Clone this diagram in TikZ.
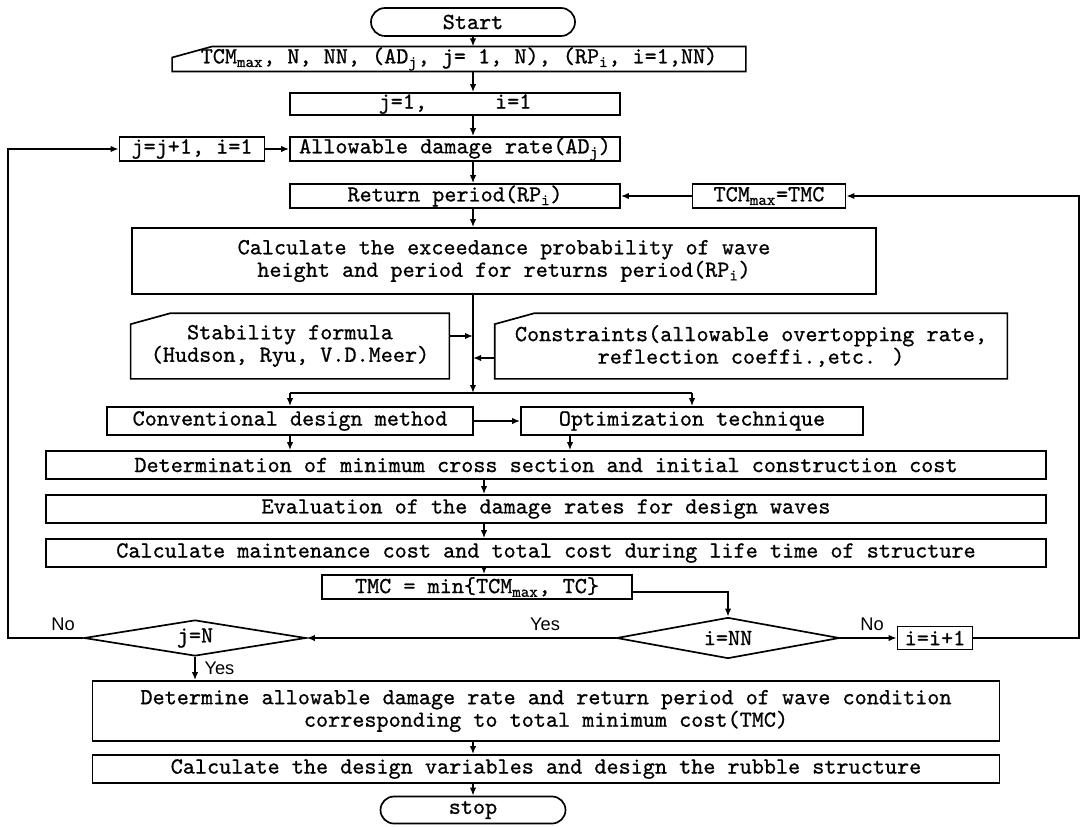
\documentclass[tikz,border=0pt]{standalone}
\usepackage{fontspec}
\newfontfamily\flowfont{lmmono10-regular.otf}[FakeBold=0.8]
\newfontfamily\labelfont{Liberation Sans}
\usetikzlibrary{shapes.geometric,shapes.misc,arrows.meta}

\begin{document}
\begin{tikzpicture}[x=0.25mm, y=-0.25mm, line width=1.2pt,
    every node/.style={font=\flowfont\fontsize{16.4}{16}\selectfont},
    box/.style={draw, rectangle, inner sep=0pt, align=center},
    manual/.style={rectangle, inner sep=0pt, align=center},
    terminal/.style={draw, rounded rectangle, inner sep=0pt},
    decision/.style={draw, diamond, inner sep=0pt, aspect=6},
    flow/.style={-{Latex[length=2mm,width=1.6mm]}},
    yesno/.style={font=\labelfont\fontsize{13}{13}\selectfont}]

\useasboundingbox (0,0) rectangle (1084,826);

% Reference lines
\coordinate (col) at (473,0);
\coordinate (col2) at (484,0);
\coordinate (optout) at (570,0);
\coordinate (lloop) at (8,0);
\coordinate (rloop) at (1079,0);
\coordinate (joint) at (473,393);
\coordinate (sin) at (473,336);
\coordinate (cin) at (473,358);

% Top part
\node[terminal, minimum width=51mm, minimum height=7mm] (start) at (473,22) {Start};
\node[manual, minimum width=143mm, minimum height=5.5mm] (input) at (459,59)
    {TCM\textsubscript{max}, N, NN, (AD\textsubscript{j}, j= 1, N), (RP\textsubscript{i}, i=1,NN)};
\node[box, minimum width=82.5mm, minimum height=5.5mm] (init) at (455,104) {j=1,\hspace{17mm}i=1};
\node[box, minimum width=36.25mm, minimum height=6mm] (jinc) at (192,149) {j=j+1, i=1};
\node[box, minimum width=82.5mm, minimum height=6mm] (allow) at (455,149) {Allowable damage rate(AD\textsubscript{j})};
\node[box, minimum width=82.5mm, minimum height=6mm] (ret) at (455,196) {Return period(RP\textsubscript{i})};
\node[box, minimum width=38.25mm, minimum height=6mm] (tcmset) at (769,196) {TCM\textsubscript{max}=TMC};
\node[box, minimum width=186mm, minimum height=16.5mm] (calc) at (504,261)
    {Calculate the exceedance probability of wave\\height and period for returns period(RP\textsubscript{i})};

% Formulae and constraints
\node[manual, minimum width=79.25mm, minimum height=16mm] (stab) at (290,346)
    {Stability formula\\(Hudson, Ryu, V.D.Meer)};
\node[manual, minimum width=127.75mm, minimum height=16mm] (cons) at (751,346)
    {Constraints(allowable overtopping rate,\\reflection coeffi.,etc. )};

\foreach \n in {input,stab,cons} {
    \draw (\n.south west) -- ([yshift=-2.75mm]\n.north west) -- ([xshift=10mm]\n.north west)
        -- (\n.north east) -- (\n.south east) -- cycle;
}

% Design and cost
\node[box, minimum width=91.5mm, minimum height=7mm] (conv) at (290,421) {Conventional design method};
\node[box, minimum width=85.5mm, minimum height=7mm] (opti) at (692,421) {Optimization technique};
\node[box, minimum width=250mm, minimum height=7mm] (det) at (546,465)
    {Determination of minimum cross section and initial construction cost};
\node[box, minimum width=250mm, minimum height=7mm] (eval) at (546,509)
    {Evaluation of the damage rates for design waves};
\node[box, minimum width=250mm, minimum height=7mm] (maint) at (546,553)
    {Calculate maintenance cost and total cost during life time of structure};
\node[box, minimum width=77.5mm, minimum height=6mm] (tmc) at (477,587) {TMC = min\{TCM\textsubscript{max}, TC\}};

% Decisions
\node[decision, minimum width=55.5mm, minimum height=9mm] (jdec) at (195,638) {j=N};
\node[decision, minimum width=55.75mm, minimum height=10.25mm] (idec) at (728,638) {i=NN};
\node[box, minimum width=18.75mm, minimum height=5.75mm] (iinc) at (935,638) {i=i+1};

\node[yesno] (nol) at (63,624) {No};
\node[yesno] (yesm) at (545,624) {Yes};
\node[yesno] (nor) at (872,624) {No};
\node[yesno, anchor=west] (yesb) at (199,668) {Yes};

% Bottom part
\node[box, minimum width=226.75mm, minimum height=15mm] (final) at (546,711)
    {Determine allowable damage rate and return period of wave condition\\corresponding to total minimum cost(TMC)};
\node[box, minimum width=226.75mm, minimum height=7mm] (design) at (546,769)
    {Calculate the design variables and design the rubble structure};
\node[terminal, minimum width=46.25mm, minimum height=6.75mm] (stop) at (473,810) {stop};

% Main column
\draw[flow] (start.south) -- (col |- input.north);
\draw[flow] (col |- input.south) -- (col |- init.north);
\draw[flow] (col |- init.south) -- (col |- allow.north);
\draw[flow] (col |- allow.south) -- (col |- ret.north);
\draw[flow] (col |- ret.south) -- (col |- calc.north);
\draw[flow] (col |- calc.south) -- (joint);
\draw[flow] (stab.east |- sin) -- (sin);
\draw[flow] (cons.west |- cin) -- (cin);
\draw (conv.north |- joint) -- (opti.north |- joint);
\draw[flow] (conv.north |- joint) -- (conv.north);
\draw[flow] (opti.north |- joint) -- (opti.north);
\draw[flow] (conv) -- (opti);
\draw[flow] (conv.south) -- (conv.south |- det.north);
\draw[flow] (optout |- opti.south) -- (optout |- det.north);
\draw[flow] (col2 |- det.south) -- (col2 |- eval.north);
\draw[flow] (col2 |- eval.south) -- (col2 |- maint.north);
\draw[flow] (col2 |- maint.south) -- (col2 |- tmc.north);
\draw[flow] ([yshift=-1.25mm]tmc.east) -| (idec.north);
\draw[flow] (idec.west) -- (jdec.east);
\draw[flow] (idec.east) -- (iinc.west);

% Loops
\draw[flow] (iinc.east) -- (rloop |- iinc) -- (rloop |- tcmset) -- (tcmset.east);
\draw[flow] (tcmset.west) -- (ret.east);
\draw[flow] (jdec.west) -- (lloop |- jdec) -- (lloop |- jinc) -- (jinc.west);
\draw[flow] (jinc.east) -- (allow.west);

% Exit
\draw[flow] (jdec.south) -- (jdec.south |- final.north);
\draw[flow] (col |- final.south) -- (col |- design.north);
\draw[flow] (col |- design.south) -- (stop.north);

\end{tikzpicture}
\end{document}
